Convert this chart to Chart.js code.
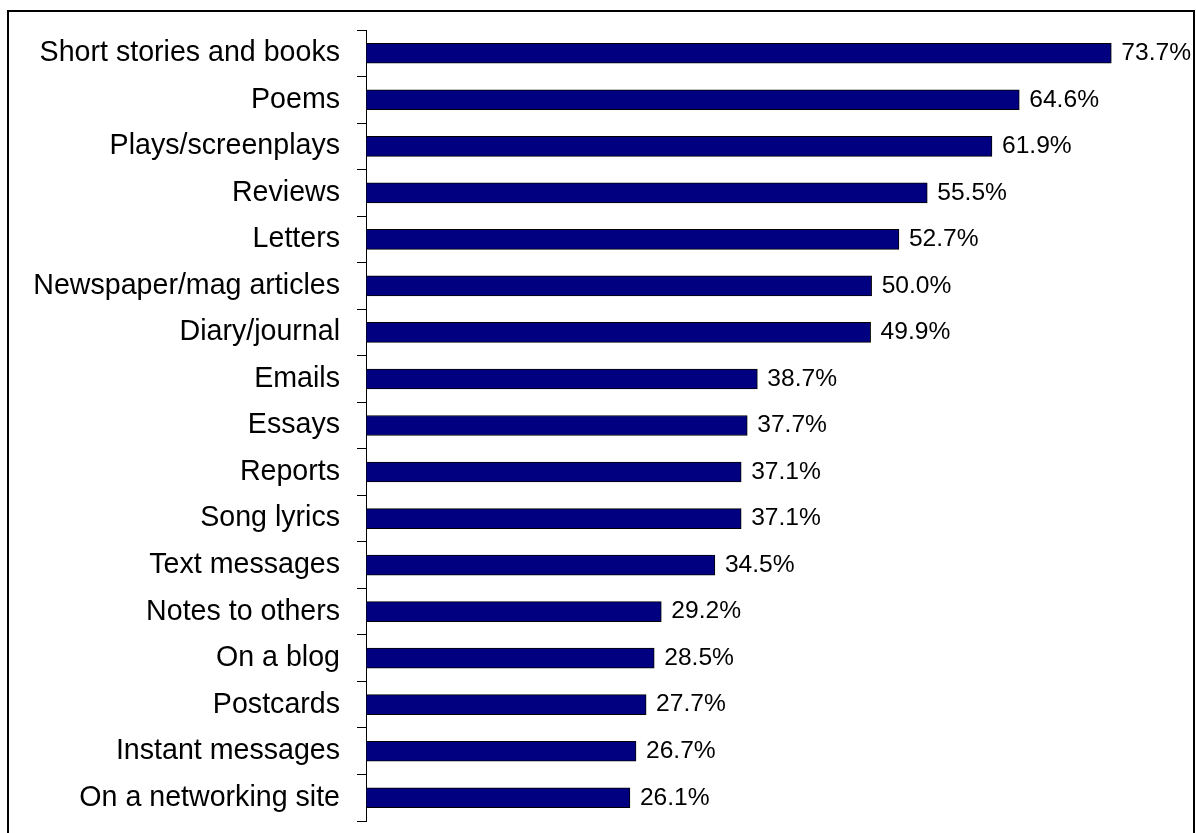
<!DOCTYPE html>
<html>
<head>
<meta charset="utf-8">
<script src="https://cdn.jsdelivr.net/npm/chart.js@4/dist/chart.umd.min.js"></script>
<style>
  html, body { margin: 0; padding: 0; background: #fff; }
  #wrap { position: relative; width: 1196px; height: 833px; }
</style>
</head>
<body>
<div id="wrap"><canvas id="c" width="1196" height="833"></canvas></div>
<script>
const categories = [
  "Short stories and books", "Poems", "Plays/screenplays", "Reviews", "Letters",
  "Newspaper/mag articles", "Diary/journal", "Emails", "Essays", "Reports",
  "Song lyrics", "Text messages", "Notes to others", "On a blog", "Postcards",
  "Instant messages", "On a networking site"
];
const values = [73.7, 64.6, 61.9, 55.5, 52.7, 50.0, 49.9, 38.7, 37.7, 37.1, 37.1, 34.5, 29.2, 28.5, 27.7, 26.7, 26.1];
const axisMax = 80;

const FONT = "'Liberation Sans', Arial, sans-serif";

const frame = {
  id: 'frame',
  afterDraw(chart) {
    const ctx = chart.ctx;
    ctx.save();
    ctx.strokeStyle = '#000';
    ctx.lineWidth = 2;
    ctx.strokeRect(8, 11, 1186, 900);
    ctx.restore();
  }
};

const valueLabels = {
  id: 'valueLabels',
  afterDatasetsDraw(chart) {
    const ctx = chart.ctx;
    const meta = chart.getDatasetMeta(0);
    ctx.save();
    ctx.font = '24.6px ' + FONT;
    ctx.fillStyle = '#000';
    ctx.textAlign = 'left';
    ctx.textBaseline = 'middle';
    meta.data.forEach((bar, i) => {
      ctx.fillText(values[i].toFixed(1) + '%', bar.x + 10, bar.y);
    });
    ctx.restore();
  }
};

new Chart(document.getElementById('c'), {
  type: 'bar',
  data: {
    labels: categories,
    datasets: [{
      data: values,
      backgroundColor: '#000080',
      borderColor: '#000000',
      borderWidth: 1,
      borderSkipped: false,
      barThickness: 20
    }]
  },
  options: {
    indexAxis: 'y',
    responsive: false,
    animation: false,
    devicePixelRatio: 1,
    layout: { padding: { left: 0, right: 21, top: 30, bottom: 12 } },
    plugins: { legend: { display: false }, tooltip: { enabled: false } },
    scales: {
      x: { display: false, min: 0, max: axisMax },
      y: {
        afterFit(scale) { scale.width = 366; scale.paddingTop = 0; scale.paddingBottom = 0; },
        grid: { display: true, drawOnChartArea: false, tickLength: 9, color: '#000', lineWidth: 1, offset: true },
        border: { display: true, color: '#000', width: 1 },
        ticks: { color: '#000', font: { family: FONT, size: 28.6 }, padding: 17 }
      }
    }
  },
  plugins: [frame, valueLabels]
});
</script>
</body>
</html>
